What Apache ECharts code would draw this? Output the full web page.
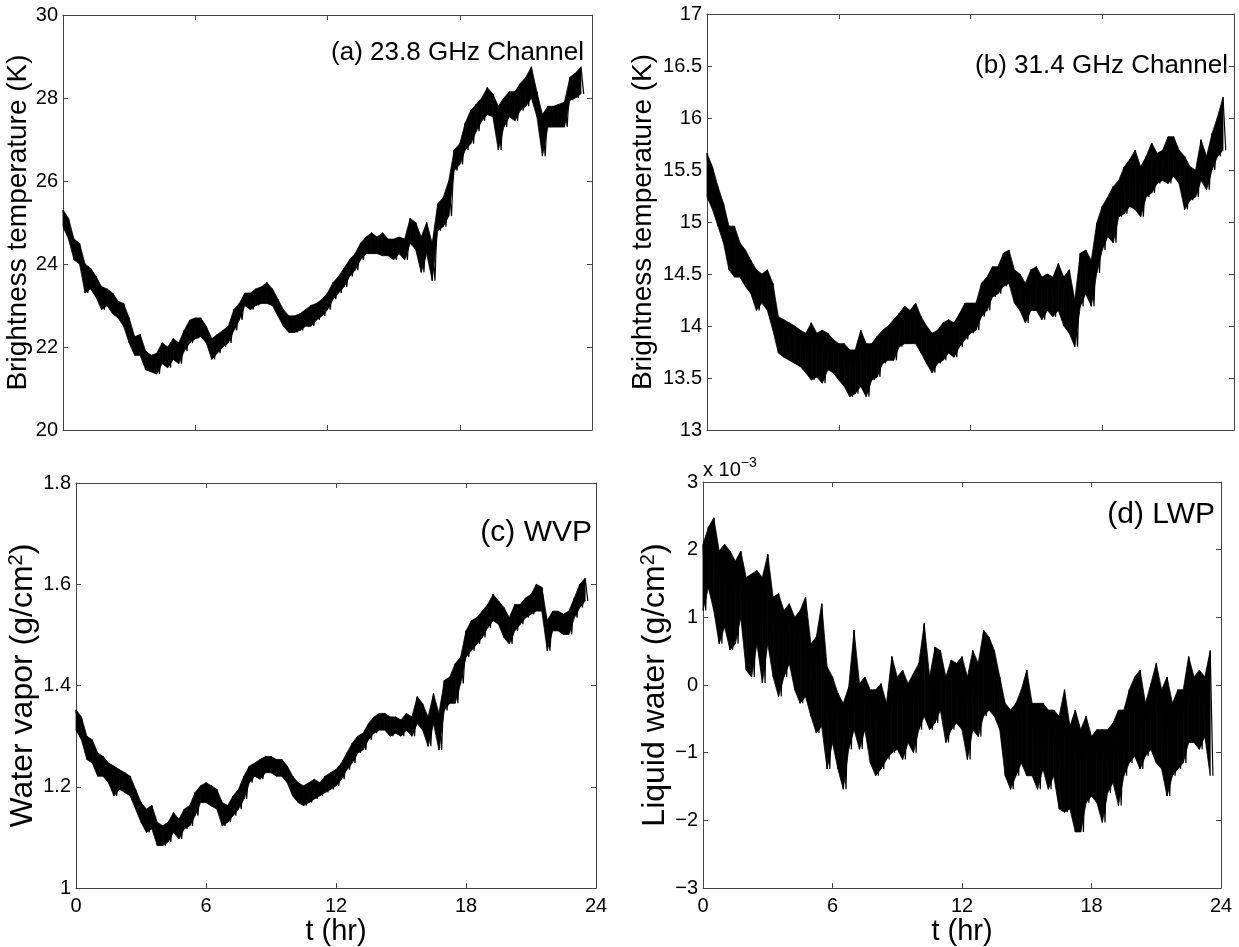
<!DOCTYPE html>
<html>
<head>
<meta charset="utf-8">
<script src="https://cdn.jsdelivr.net/npm/echarts@6/dist/echarts.min.js"></script>
<style>
html,body{margin:0;padding:0;background:#fff;}
#chart{width:1239px;height:947px;}
</style>
</head>
<body>
<div id="chart"></div>
<script>
// Time step between successive samples (hours)
const STEP = 0.125;

// x-axis tick labels (hours)
const xTicks = [0, 6, 12, 18, 24];

// (a) 23.8 GHz brightness temperature (K), alternating upper/lower excursions
const tb238 = [
25.3,24.9, 25.1,24.6, 24.6,24.1, 24.5,24.0, 24.0,23.3, 23.9,23.4, 23.7,23.2, 23.45,22.9,
23.4,23.0, 23.3,22.8, 23.1,22.7, 23.05,22.5, 22.7,22.1, 22.25,21.8, 22.3,21.8, 21.9,21.45,
21.8,21.4, 21.85,21.35, 22.1,21.6, 22.0,21.5, 22.2,21.7, 22.1,21.6, 22.4,21.9, 22.65,22.1,
22.7,22.2, 22.7,22.25, 22.5,22.1, 22.2,21.7, 22.3,21.85, 22.4,22.0, 22.5,22.1, 22.9,22.4,
23.05,22.65, 23.3,23.0, 23.3,22.9, 23.4,23.0, 23.45,23.05, 23.55,23.05, 23.4,23.0, 23.15,22.75,
22.9,22.5, 22.75,22.35, 22.75,22.35, 22.8,22.4, 22.9,22.5, 23.0,22.5, 23.05,22.65, 23.15,22.75,
23.3,22.9, 23.55,23.15, 23.7,23.3, 23.9,23.45, 24.1,23.7, 24.25,23.85, 24.5,24.1, 24.65,24.25,
24.75,24.25, 24.65,24.25, 24.75,24.2, 24.6,24.2, 24.6,24.1, 24.65,24.25, 24.6,24.1, 25.1,24.5,
25.0,24.35, 24.65,23.8, 25.0,24.25, 24.5,23.6, 25.45,24.8, 25.6,24.9, 26.0,25.15, 26.75,26.25,
26.9,26.4, 27.4,26.75, 27.7,26.9, 27.85,27.2, 28.0,27.45, 28.25,27.6, 28.1,27.55, 27.8,26.75,
28.0,27.3, 28.15,27.55, 28.15,27.45, 28.35,27.7, 28.5,27.8, 28.75,28.0, 28.15,27.55, 27.6,26.6,
27.8,27.3, 27.8,27.3, 27.85,27.3, 27.9,27.3, 28.5,27.95, 28.6,28.0, 28.75,28.1
];

// (b) 31.4 GHz brightness temperature (K)
const tb314 = [
15.66,15.24, 15.53,15.12, 15.34,14.96, 15.18,14.8, 14.96,14.54, 14.96,14.47, 14.8,14.47, 14.73,14.38,
14.63,14.31, 14.54,14.15, 14.5,14.22, 14.54,14.15, 14.41,13.96, 14.09,13.74, 14.06,13.7, 14.03,13.67,
14.0,13.64, 13.96,13.61, 13.93,13.55, 14.03,13.48, 13.93,13.51, 13.96,13.45, 13.93,13.58, 13.87,13.55,
13.83,13.48, 13.83,13.42, 13.77,13.32, 13.77,13.35, 13.96,13.42, 13.83,13.32, 13.83,13.48, 13.9,13.51,
13.96,13.64, 14.0,13.67, 14.06,13.67, 14.12,13.8, 14.19,13.83, 14.15,13.83, 14.22,13.83, 14.09,13.74,
14.0,13.64, 13.93,13.55, 13.96,13.64, 14.03,13.67, 14.06,13.74, 14.03,13.7, 14.12,13.8, 14.22,13.87,
14.22,13.93, 14.22,13.96, 14.41,14.09, 14.47,14.15, 14.57,14.28, 14.57,14.31, 14.7,14.38, 14.73,14.41,
14.54,14.22, 14.5,14.15, 14.41,14.03, 14.54,14.15, 14.57,14.15, 14.47,14.06, 14.5,14.15, 14.47,14.09,
14.6,14.15, 14.47,14.0, 14.54,13.93, 14.25,13.8, 14.7,14.19, 14.73,14.31, 14.63,14.19, 14.99,14.51,
15.15,14.73, 15.24,14.86, 15.34,14.8, 15.4,15.05, 15.53,15.08, 15.6,15.15, 15.69,15.12, 15.53,15.05,
15.63,15.24, 15.76,15.28, 15.66,15.37, 15.69,15.4, 15.82,15.37, 15.82,15.44, 15.69,15.37, 15.63,15.12,
15.53,15.21, 15.5,15.24, 15.79,15.4, 15.63,15.31, 15.85,15.5, 16.01,15.63, 16.2,15.69
];

// (c) water vapor path (g/cm^2)
const wvp = [
1.352,1.312, 1.338,1.293, 1.3,1.254, 1.293,1.247, 1.267,1.221, 1.26,1.221, 1.247,1.208, 1.241,1.182,
1.234,1.195, 1.228,1.189, 1.221,1.182, 1.195,1.156, 1.169,1.13, 1.156,1.11, 1.163,1.117, 1.13,1.084,
1.123,1.084, 1.13,1.091, 1.149,1.11, 1.136,1.097, 1.156,1.117, 1.163,1.123, 1.189,1.143, 1.202,1.169,
1.208,1.169, 1.202,1.162, 1.195,1.156, 1.169,1.123, 1.163,1.13, 1.182,1.143, 1.195,1.156, 1.221,1.176,
1.241,1.208, 1.247,1.221, 1.254,1.215, 1.26,1.228, 1.26,1.228, 1.254,1.221, 1.254,1.221, 1.241,1.208,
1.221,1.182, 1.208,1.169, 1.202,1.163, 1.208,1.169, 1.215,1.176, 1.208,1.182, 1.221,1.189, 1.228,1.195,
1.234,1.202, 1.247,1.215, 1.267,1.234, 1.286,1.247, 1.3,1.267, 1.306,1.273, 1.325,1.293, 1.338,1.306,
1.345,1.312, 1.345,1.312, 1.338,1.3, 1.338,1.306, 1.332,1.3, 1.345,1.312, 1.338,1.3, 1.378,1.325,
1.364,1.312, 1.338,1.28, 1.384,1.325, 1.345,1.273, 1.41,1.351, 1.417,1.365, 1.443,1.365, 1.456,1.404,
1.508,1.456, 1.528,1.469, 1.534,1.482, 1.547,1.495, 1.56,1.514, 1.58,1.528, 1.567,1.521, 1.554,1.495,
1.534,1.482, 1.56,1.508, 1.56,1.521, 1.573,1.534, 1.58,1.541, 1.6,1.547, 1.594,1.547, 1.528,1.469,
1.547,1.508, 1.547,1.508, 1.541,1.501, 1.547,1.501, 1.573,1.534, 1.6,1.554, 1.612,1.567
];

// (d) liquid water path (units of 1e-3 g/cm^2)
const lwp = [
2.08,1.1, 2.33,1.44, 2.47,1.1, 1.98,0.61, 2.08,0.86, 1.98,0.52, 1.83,0.61, 1.98,1.0,
1.59,0.22, 1.64,0.12, 1.69,0.61, 1.59,0.03, 1.93,0.61, 1.3,0.12, 1.35,-0.17, 1.1,0.12,
1.2,0.32, 1.0,-0.07, 1.1,-0.27, 1.3,-0.17, 0.61,-0.46, 0.71,-0.71, 1.2,-0.61, 0.27,-1.24,
0.12,-0.85, -0.12,-1.24, -0.27,-1.54, -0.03,-0.95, 0.81,-0.66, 0.02,-0.95, 0.12,-0.66, -0.07,-1.15,
-0.07,-1.34, 0.02,-1.24, -0.27,-1.1, 0.42,-1.0, 0.12,-0.95, 0.22,-1.1, 0.02,-0.85, 0.17,-1.0,
0.32,-0.66, 0.91,-0.46, 0.12,-0.66, 0.56,-0.56, 0.51,-0.37, 0.12,-0.85, 0.37,-0.66, 0.32,-0.56,
0.42,-0.66, 0.12,-1.1, 0.51,-0.66, 0.32,-0.76, 0.81,-0.46, 0.71,-0.37, 0.51,-0.46, 0.12,-0.66,
-0.27,-1.34, -0.37,-1.54, -0.27,-1.34, -0.07,-1.15, 0.22,-1.34, -0.27,-1.34, -0.27,-1.54, -0.27,-1.24,
-0.37,-1.54, -0.37,-1.34, -0.46,-1.83, -0.07,-1.88, -0.61,-1.83, -0.37,-2.17, -0.66,-2.17, -0.46,-1.74,
-0.76,-1.64, -0.66,-1.74, -0.66,-2.03, -0.66,-1.59, -0.56,-1.44, -0.37,-1.78, -0.37,-1.34, -0.07,-1.15,
0.12,-1.05, 0.22,-1.24, -0.27,-1.05, 0.02,-0.95, 0.32,-1.15, -0.07,-1.24, 0.12,-1.64, -0.27,-1.34,
-0.07,-1.24, -0.07,-1.15, 0.42,-0.85, 0.12,-0.85, 0.22,-0.95, 0.12,-0.76, 0.51,-1.34
];

const FONT = 'Liberation Sans, Arial, Helvetica, sans-serif';
const AXC = '#444';

const grids = [
  {left: 63, top: 15, width: 529, height: 415},
  {left: 707, top: 14, width: 527, height: 416},
  {left: 76, top: 483, width: 520, height: 408},
  {left: 703, top: 482, width: 518, height: 409}
];

const yCfg = [
  {min: 20, max: 30, interval: 2, name: 'Brightness temperature (K)', gap: 26, size: 28},
  {min: 13, max: 17, interval: 0.5, name: 'Brightness temperature (K)', gap: 50, size: 28},
  {min: 1, max: 1.8, interval: 0.2, name: '{n|Water vapor (g/cm}{s|2}{n|)}', gap: 33, size: 32},
  {min: -3, max: 3, interval: 1, name: '{n|Liquid water (g/cm}{s|2}{n|)}', gap: 25, size: 32}
];

const seriesData = [tb238, tb314, wvp, lwp];

function lineCommon() {
  return {
    axisLine: {show: true, onZero: false, lineStyle: {color: AXC, width: 1}},
    axisTick: {show: true, inside: true, length: 5, lineStyle: {color: AXC, width: 1}},
    splitLine: {show: false}
  };
}

function renderBand(params, api) {
  const p0h = api.coord([api.value(0), api.value(2)]);
  const p1h = api.coord([api.value(3), api.value(5)]);
  const p1l = api.coord([api.value(3), api.value(4)]);
  const p0l = api.coord([api.value(0), api.value(1)]);
  return {type: 'polygon', shape: {points: [p0h, p1h, p1l, p0l]},
    style: {fill: '#000', stroke: '#000', lineWidth: 0.8}};
}

const xAxes = [], yAxes = [], series = [];
grids.forEach((g, i) => {
  const showX = i >= 2;
  xAxes.push(Object.assign(lineCommon(), {
    type: 'value', gridIndex: i, position: 'bottom', min: xTicks[0], max: xTicks[xTicks.length - 1],
    interval: xTicks[1] - xTicks[0],
    axisLabel: {show: showX, fontSize: 20, color: '#000', margin: 8, fontFamily: FONT},
    name: showX ? 't (hr)' : '', nameLocation: 'middle', nameGap: 25,
    nameTextStyle: {fontSize: 29, color: '#000', fontFamily: FONT}
  }));
  xAxes.push(Object.assign(lineCommon(), {
    type: 'value', gridIndex: i, position: 'top', min: xTicks[0], max: xTicks[xTicks.length - 1],
    interval: xTicks[1] - xTicks[0], axisLabel: {show: false}
  }));
  const yc = yCfg[i];
  const big = yc.size;
  yAxes.push(Object.assign(lineCommon(), {
    type: 'value', gridIndex: i, position: 'left', min: yc.min, max: yc.max, interval: yc.interval,
    axisLabel: {show: true, fontSize: 20, color: '#000', margin: 5, fontFamily: FONT,
      formatter: v => (v < 0 ? '\u2212' + (-v) : String(v))},
    name: yc.name, nameLocation: 'middle', nameGap: yc.gap,
    nameTextStyle: {fontSize: big, color: '#000', fontFamily: FONT,
      rich: {
        n: {fontSize: big, color: '#000', fontFamily: FONT, verticalAlign: 'bottom'},
        s: {fontSize: Math.round(big * 0.62), color: '#000', fontFamily: FONT, verticalAlign: 'bottom', padding: [0, 0, Math.round(big * 0.42), 0]}
      }}
  }));
  yAxes.push(Object.assign(lineCommon(), {
    type: 'value', gridIndex: i, position: 'right', min: yc.min, max: yc.max, interval: yc.interval,
    axisLabel: {show: false}
  }));

  const vals = seriesData[i];
  // band between the upper and lower excursion of consecutive sample pairs
  const band = [];
  for (let k = 0; k + 3 < vals.length; k += 2) {
    band.push([k * STEP, vals[k + 1], vals[k], (k + 2) * STEP, vals[k + 3], vals[k + 2]]);
  }
  series.push({
    type: 'custom', xAxisIndex: 2 * i, yAxisIndex: 2 * i, silent: true, animation: false,
    renderItem: renderBand, encode: {x: [0, 3], y: [1, 2, 4, 5]}, data: band
  });
  // the raw alternating trace, giving the jagged noise edges
  series.push({
    type: 'line', xAxisIndex: 2 * i, yAxisIndex: 2 * i, showSymbol: false, symbol: 'none',
    lineStyle: {color: '#000', width: 1.2}, silent: true, animation: false,
    data: vals.map((v, k) => [k * STEP, v])
  });
});

const option = {
  animation: false,
  backgroundColor: '#fff',
  textStyle: {fontFamily: FONT},
  grid: grids.map(g => Object.assign({containLabel: false}, g)),
  xAxis: xAxes,
  yAxis: yAxes,
  series: series,
  graphic: [
    {type: 'text', x: 584, y: 53, style: {text: '(a) 23.8 GHz Channel', fontSize: 26, fontFamily: FONT, fill: '#000', align: 'right', verticalAlign: 'middle'}},
    {type: 'text', x: 1228, y: 66, style: {text: '(b) 31.4 GHz Channel', fontSize: 26, fontFamily: FONT, fill: '#000', align: 'right', verticalAlign: 'middle'}},
    {type: 'text', x: 592, y: 533, style: {text: '(c) WVP', fontSize: 30, fontFamily: FONT, fill: '#000', align: 'right', verticalAlign: 'middle'}},
    {type: 'text', x: 1215, y: 515, style: {text: '(d) LWP', fontSize: 30, fontFamily: FONT, fill: '#000', align: 'right', verticalAlign: 'middle'}},
    {type: 'text', x: 703, y: 480, style: {text: '{n|x 10}{s|\u22123}', fontFamily: FONT, fill: '#000', align: 'left', verticalAlign: 'bottom',
      rich: {
        n: {fontSize: 20, fontFamily: FONT, color: '#000', verticalAlign: 'bottom'},
        s: {fontSize: 14, fontFamily: FONT, color: '#000', verticalAlign: 'bottom', padding: [0, 0, 10, 0]}
      }}}
  ]
};

const chart = echarts.init(document.getElementById('chart'), null, {renderer: 'canvas'});
chart.setOption(option);
</script>
</body>
</html>
